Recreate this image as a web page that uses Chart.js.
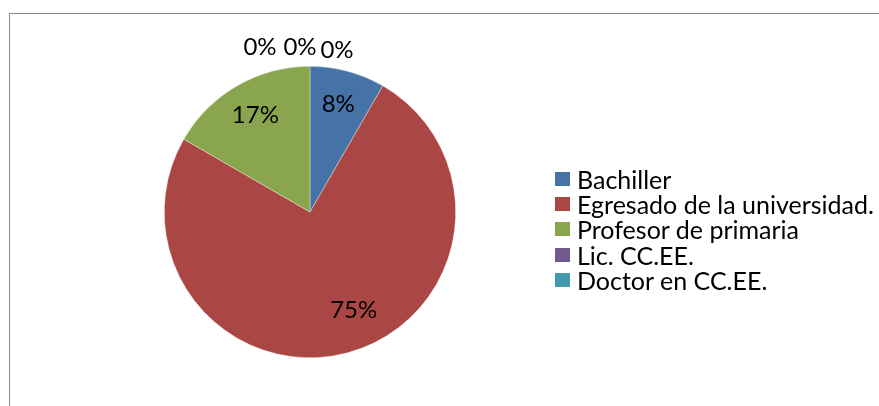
<!DOCTYPE html>
<html>
<head>
<meta charset="utf-8">
<script src="https://cdn.jsdelivr.net/npm/chart.js@4"></script>
<style>
  body { margin: 0; background: #fff; }
  #wrap { position: relative; width: 879px; height: 406px; overflow: hidden; }
  #frame { position: absolute; left: 9px; top: 13px; width: 900px; height: 420px; border: 1px solid #8a8a8a; box-sizing: border-box; }
  #legend { position: absolute; left: 555px; top: 166px; font-family: Lato, sans-serif; font-size: 25px; color: #000; }
  #legend .row { display: flex; align-items: center; height: 25.3px; white-space: nowrap; }
  #legend .box { width: 15px; height: 14px; margin-right: 7px; flex: none; }
  canvas { position: absolute; left: 0; top: 0; }
</style>
</head>
<body>
<div id="wrap">
  <div id="frame"></div>
  <canvas id="pieChart" width="879" height="406"></canvas>
  <div id="legend"></div>
</div>
<script>
  const categories = ['Bachiller', 'Egresado de la universidad.', 'Profesor de primaria', 'Lic. CC.EE.', 'Doctor en CC.EE.', ''];
  const counts = [1, 9, 2, 0, 0, 0];
  const colors = ['#4572A7', '#AA4643', '#89A54E', '#71588F', '#4198AF', '#DB843D'];

  const total = counts.reduce((a, b) => a + b, 0);

  // Beschriftung der Sektoren (wie Excel: innen, Nullwerte oben aussen)
  const pctLabels = {
    id: 'pctLabels',
    afterDatasetsDraw(chart) {
      const ctx = chart.ctx;
      const arcs = chart.getDatasetMeta(0).data;
      const zeroDx = [-50, -10, 27];
      const zeroDy = [-165, -165, -162];
      let z = 0;
      ctx.save();
      ctx.font = '24px Lato, sans-serif';
      ctx.fillStyle = '#000';
      ctx.textAlign = 'center';
      ctx.textBaseline = 'middle';
      arcs.forEach((arc, i) => {
        const p = arc.getProps(['x', 'y', 'startAngle', 'endAngle', 'outerRadius'], true);
        const txt = Math.round(counts[i] / total * 100) + '%';
        if (counts[i] === 0) {
          ctx.fillText(txt, p.x + zeroDx[z], p.y + zeroDy[z]);
          z++;
          return;
        }
        let mid = (p.startAngle + p.endAngle) / 2;
        if (counts[i] / total > 0.5) mid -= 0.15;
        const r = p.outerRadius * 0.75;
        ctx.fillText(txt, p.x + Math.cos(mid) * r, p.y + Math.sin(mid) * r - 2);
      });
      ctx.restore();
    }
  };

  const chart = new Chart(document.getElementById('pieChart'), {
    type: 'pie',
    data: {
      labels: categories,
      datasets: [{
        data: counts,
        backgroundColor: colors,
        borderColor: 'rgba(255,255,255,0.6)',
        borderWidth: 0.6
      }]
    },
    options: {
      responsive: false,
      animation: false,
      layout: { padding: { left: 164, right: 423, top: 66, bottom: 48 } },
      plugins: {
        legend: { display: false },
        tooltip: { enabled: false }
      }
    },
    plugins: [pctLabels]
  });

  // Legende als HTML
  const legendEl = document.getElementById('legend');
  categories.forEach((name, i) => {
    if (!name) return;
    const row = document.createElement('div');
    row.className = 'row';
    const box = document.createElement('span');
    box.className = 'box';
    box.style.background = colors[i];
    const label = document.createElement('span');
    label.textContent = name;
    row.appendChild(box);
    row.appendChild(label);
    legendEl.appendChild(row);
  });
</script>
</body>
</html>
